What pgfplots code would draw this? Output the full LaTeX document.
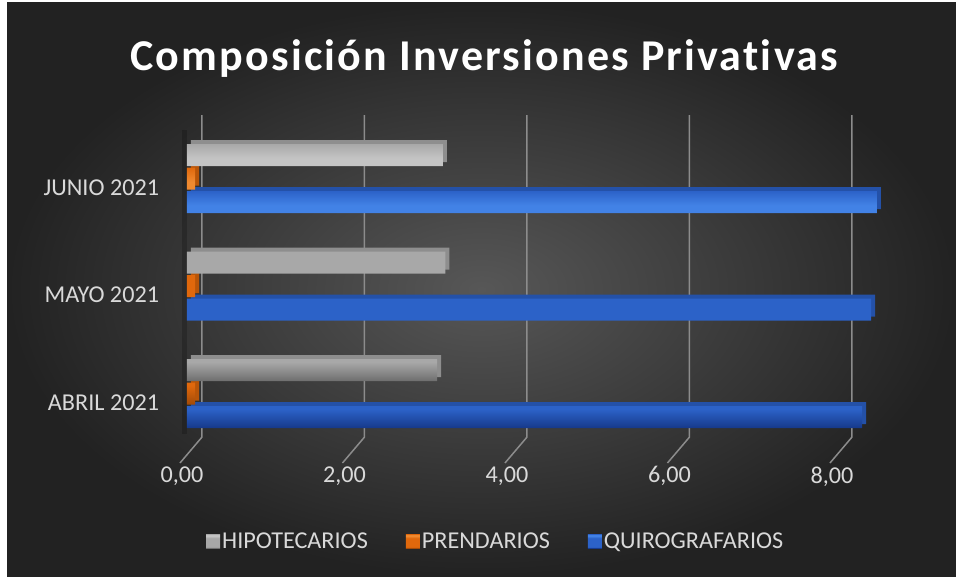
\documentclass[border=0pt]{standalone}
\usepackage{pgfplots}
\pgfplotsset{compat=1.18}
\usepackage{pgfplotstable}
\usepackage{fontspec}
\setmainfont{Carlito}
\newfontfamily\titlefont[LetterSpace=5,Ligatures=NoCommon]{Carlito}
\definecolor{txt}{HTML}{D9D9D9}
\definecolor{bgin}{HTML}{575757}
\definecolor{bgout}{HTML}{222222}
\definecolor{gridc}{HTML}{8C8C8C}
% bar colours
\definecolor{gdark}{HTML}{6E6E6E}
\definecolor{gmid}{HTML}{A8A8A8}
\definecolor{glight}{HTML}{C4C4C4}
\definecolor{gside}{HTML}{8E8E8E}
\definecolor{odark}{HTML}{A04A08}
\definecolor{omid}{HTML}{E0680C}
\definecolor{olight}{HTML}{F08A30}
\definecolor{oside}{HTML}{B85508}
\definecolor{bdark}{HTML}{16398A}
\definecolor{bmid}{HTML}{2C62C8}
\definecolor{blight}{HTML}{4282E6}
\definecolor{bside}{HTML}{2451A8}
\pgfdeclareverticalshading{grayb}{100bp}{color(0bp)=(gdark); color(25bp)=(gdark); color(29bp)=(gmid); color(60bp)=(gmid); color(68bp)=(glight); color(72bp)=(glight); color(75bp)=(gmid); color(100bp)=(gmid)}
\pgfdeclareverticalshading{orangeb}{100bp}{color(0bp)=(odark); color(25bp)=(odark); color(29bp)=(omid); color(60bp)=(omid); color(68bp)=(olight); color(72bp)=(olight); color(75bp)=(omid); color(100bp)=(omid)}
\pgfdeclareverticalshading{blueb}{100bp}{color(0bp)=(bdark); color(25bp)=(bdark); color(29bp)=(bmid); color(60bp)=(bmid); color(68bp)=(blight); color(72bp)=(blight); color(75bp)=(bmid); color(100bp)=(bmid)}

\pgfplotstableread{
y hipo pren quiro
0 3.08 0.10 8.31
1 3.18 0.10 8.42
2 3.15 0.10 8.49
}\datatable

\begin{document}
\begin{tikzpicture}
\fill[white] (0pt,0pt) rectangle (956pt,576pt);
\shade[inner color=bgin, outer color=bgout] (7pt,0pt) rectangle (956pt,573pt);
\useasboundingbox (0pt,0pt) rectangle (956pt,576pt);
\node[anchor=base, text=white] at (484pt,505pt) {\titlefont\bfseries\fontsize{44}{52}\selectfont Composición Inversiones Privativas};
\begin{axis}[
  anchor=south west, at={(162.6pt,113pt)},
  x=81.25pt, y=107.5pt,
  xmin=-0.3, xmax=9, ymin=-0.646, ymax=2.59,
  clip=false,
  axis line style={draw=none},
  major tick length=0pt,
  xtick={0,2,4,6,8}, ytick={0,1,2},
  yticklabels={ABRIL 2021, MAYO 2021, JUNIO 2021},
  /pgf/number format/assume math mode=true,
  xticklabel={\pgfmathprintnumber[fixed,fixed zerofill,precision=2,use comma]{\tick}},
  tick label style={font=\fontsize{24.2}{29}\selectfont, text=txt},
  xticklabel style={xshift=-5pt},
  yticklabel style={yshift=-9pt},
  xbar, bar width=22pt,
  legend style={at={(axis cs:3.8,-1.372)}, anchor=center, draw=none, fill=none,
     text=txt, font=\fontsize{24.2}{29}\selectfont, legend columns=3,
     /tikz/every even column/.append style={column sep=36pt}},
  legend image code/.code={\path[#1] (-10pt,-7pt) rectangle (4pt,7pt);},
]
% grid lines (back wall + floor)
\pgfplotsinvokeforeach{0,2,4,6,8}{
  \draw[gridc, line width=1.5pt] ([xshift=15pt]axis cs:#1,2.59) -- ([xshift=15pt]axis cs:#1,-0.405) -- ([xshift=-7pt]axis cs:#1,-0.646);
}
\fill[black, opacity=0.2] ([xshift=-5pt]axis cs:0,2.45) rectangle ([xshift=0pt]axis cs:0,-0.38);
% depth (top face and end) of the 3D bars
\addplot[forget plot, draw=none, fill=gside, bar shift=23.5pt, xshift=4pt, yshift=4pt] table[x=hipo, y=y] \datatable;
\addplot[forget plot, draw=none, fill=oside, bar shift=0pt, xshift=4pt, yshift=4pt] table[x=pren, y=y] \datatable;
\addplot[forget plot, draw=none, fill=bside, bar shift=-23.5pt, xshift=4pt, yshift=4pt] table[x=quiro, y=y] \datatable;
% front faces
\addplot[draw=none, shade, shading=grayb, bar shift=23.5pt] table[x=hipo, y=y] \datatable;
\addlegendentry{HIPOTECARIOS}
\addplot[draw=none, shade, shading=orangeb, bar shift=0pt] table[x=pren, y=y] \datatable;
\addlegendentry{PRENDARIOS}
\addplot[draw=none, shade, shading=blueb, bar shift=-23.5pt] table[x=quiro, y=y] \datatable;
\addlegendentry{QUIROGRAFARIOS}
\end{axis}
\end{tikzpicture}
\end{document}
